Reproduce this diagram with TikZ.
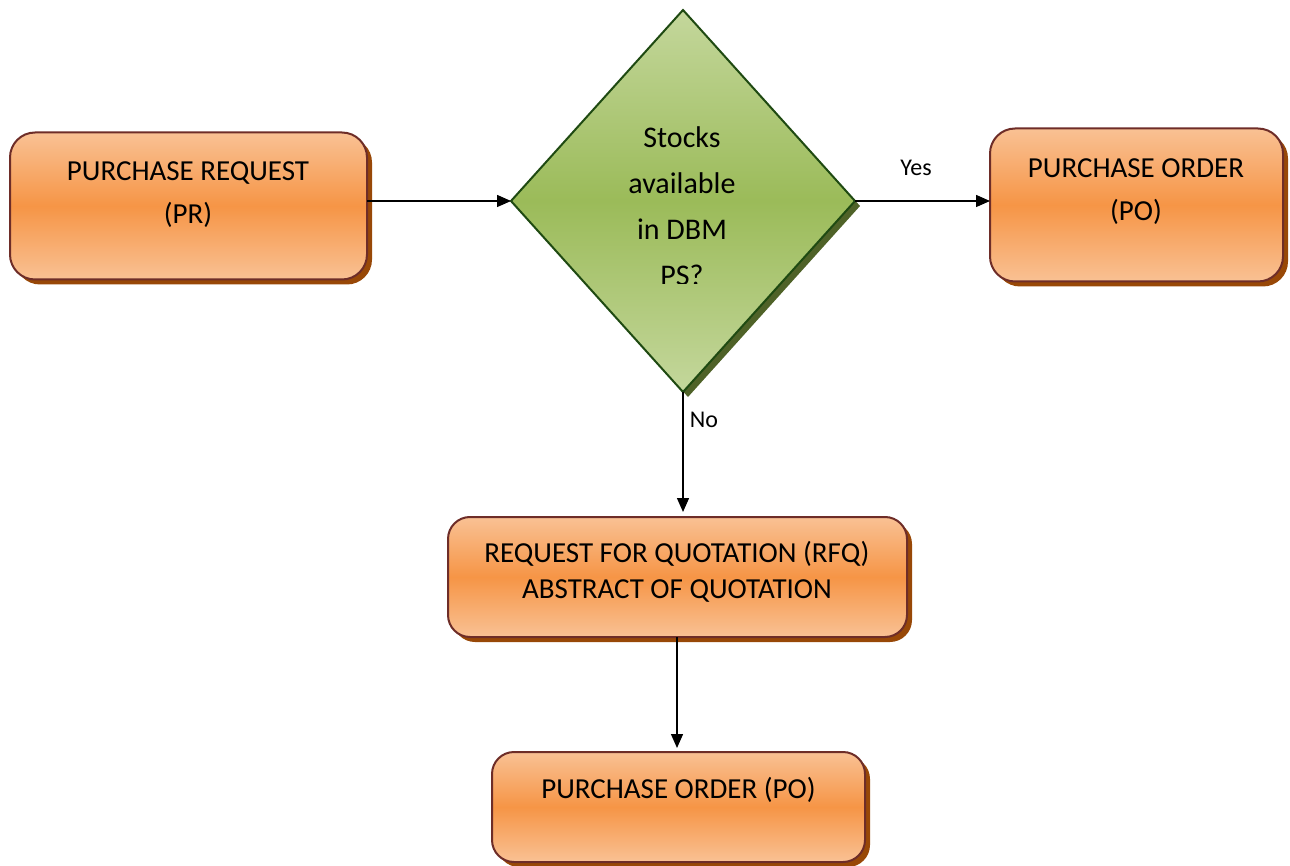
\documentclass[tikz,border=0pt]{standalone}
\usepackage{fontspec}
\setmainfont{Carlito}
\usetikzlibrary{shapes.geometric,shadows,arrows.meta}
\definecolor{olight}{HTML}{F9C194}
\definecolor{omid}{HTML}{F69546}
\definecolor{oborder}{HTML}{6E2D28}
\definecolor{oshadow}{HTML}{984807}
\definecolor{glight}{HTML}{C4D79C}
\definecolor{gmid}{HTML}{9BBB59}
\definecolor{gborder}{HTML}{1F4A12}
\definecolor{gshadow}{HTML}{4F6228}
\tikzset{
  boxnode/.style={rectangle, rounded corners=25pt, draw=oborder, line width=2pt,
    top color=olight, bottom color=olight, middle color=omid,
    inner sep=0pt, outer sep=0pt,
    drop shadow={shadow xshift=5pt, shadow yshift=-5pt, fill=oshadow, opacity=1}},
  boxtext/.style={align=center, font=\fontsize{29}{43}\selectfont, inner sep=0pt},
  decision/.style={diamond, draw=gborder, line width=2pt,
    top color=glight, bottom color=glight, middle color=gmid,
    inner sep=0pt, outer sep=0pt,
    drop shadow={shadow xshift=5pt, shadow yshift=-5pt, fill=gshadow, opacity=1}},
  arr/.style={-{Triangle[length=14pt,width=12pt]}, line width=1.4pt, black},
  lbl/.style={font=\fontsize{24}{28}\selectfont, inner sep=0pt}
}
\begin{document}
\begin{tikzpicture}[x=1pt,y=-1pt]
\useasboundingbox (0,0) rectangle (1290,866);
% boxes
\node[boxnode, minimum width=357pt, minimum height=147pt] (pr) at (188.5,206) {};
\node[boxtext] (prt) at (188,194.5) {PURCHASE REQUEST\\(PR)};
\node[boxnode, minimum width=293pt, minimum height=153pt] (po) at (1136.5,205) {};
\node[boxtext] (pot) at (1136,191.5) {PURCHASE ORDER\\(PO)};
\node[decision, minimum width=344pt, minimum height=382pt] (dia) at (683,201) {};
\begin{scope}
  \clip (500,0) rectangle (870,284);
  \node[align=center, font=\fontsize{30}{46}\selectfont, inner sep=0pt, anchor=north] (diat) at (682,126) {Stocks\\available\\in DBM\\PS?};
\end{scope}
\node[boxnode, rounded corners=22pt, minimum width=459pt, minimum height=120pt] (rfq) at (677.5,577) {};
\node[boxtext, font=\fontsize{29}{36}\selectfont] (rfqt) at (677,571.5) {REQUEST FOR QUOTATION (RFQ)\\ABSTRACT OF QUOTATION};
\node[boxnode, rounded corners=22pt, minimum width=373pt, minimum height=110pt] (po2) at (678.5,807) {};
\node[boxtext] (po2t) at (678.5,789.5) {PURCHASE ORDER (PO)};
% connectors
\draw[arr] (pr.east |- dia.west) -- (dia.west);
\draw[arr] (dia.east) -- (dia.east -| po.west);
\draw[arr, shorten >=5pt] (dia.south) -- (dia.south |- rfq.north);
\draw[arr, shorten >=4pt] (rfq.south -| 677,0) -- (po2.north -| 677,0);
% labels
\node[lbl] (yes) at (916,168) {Yes};
\node[lbl] (no) at (704,420) {No};
\end{tikzpicture}
\end{document}
